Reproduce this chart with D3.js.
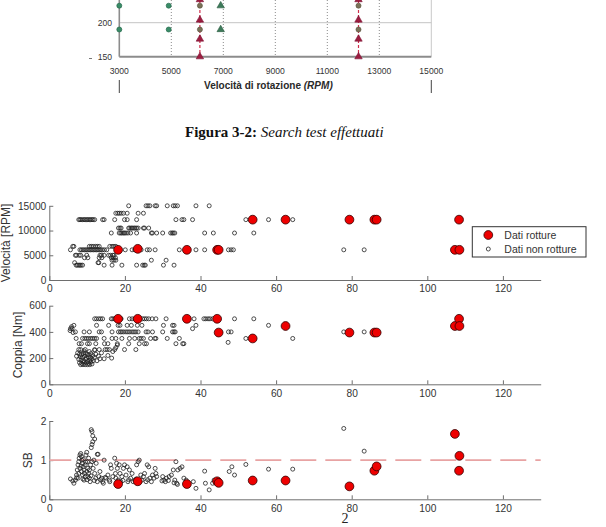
<!DOCTYPE html>
<html><head><meta charset="utf-8">
<script src="https://cdn.jsdelivr.net/npm/d3@7"></script>
<style>body{margin:0;background:#fff;} svg{display:block;}</style>
</head><body>
<svg id="c" width="606" height="527"></svg>
<script>
// ================= DATA =================
// Top (cropped) figure
const topTicksX = [3000, 5000, 7000, 9000, 11000, 13000, 15000];
const topTicksY = [150, 200];
const topGridX = [5000, 7000, 9000, 11000, 13000];
const topGreenCircleRpm = [3000, 4900];
const topBrownCircleRpm = [6100, 12200];
const topCircleLevels = [225, 190];
const topGreenTriRpm = [6900];
const topGreenTriLevels = [225, 190];
const topRedTriRpm = [6100, 12200];
const topRedTriLevels = [234, 204, 176, 150];
const topRedLineRpm = [6100, 12200];

// Main figure
const xTicks = [0, 20, 40, 60, 80, 100, 120];
const speedTicks = [0, 5000, 10000, 15000];
const torqueTicks = [0, 200, 400, 600];
const sbTicks = [0, 1, 2];
const sbLimit = 1;

// "Dati rotture" (breakages)
const breakX      = [18.2, 23.4, 36.4, 44.4, 44.8, 53.8, 62.5, 79.4, 86.0, 86.6, 107.3, 108.4, 108.5];
const breakSpeed  = [6100, 6300, 6100, 6100, 6100, 12200, 12200, 12200, 12200, 12200, 6100, 12200, 6100];
const breakTorque = [500, 500, 500, 500, 395, 350, 445, 395, 395, 395, 445, 500, 445];
const breakSB     = [0.39, 0.46, 0.39, 0.46, 0.42, 0.48, 0.48, 0.33, 0.73, 0.84, 1.67, 0.73, 1.11];

// "Dati non rotture" – speed panel, grouped by speed level
const speedRows = [
  [15000, [21.0,25.6,26.1,26.6,28.0,28.4,31.2,32.8,33.3,33.9,38.8,42.3]],
  [13500, [17.6,18.1,18.5,19.0,19.6,20.6,23.5,24.9]],
  [12200, [7.8,8.1,8.4,8.8,9.2,9.5,9.9,10.2,10.6,10.9,11.3,11.6,12.0,14.1,14.5,17.3,19.9,20.6,23.1,33.5,35.1,35.6,37.9,52.0,58.0,64.4]],
  [10500, [18.3,18.7,19.0,21.0,21.3,21.7,22.0,22.4,22.7,23.1,23.5,24.9,25.2,26.3]],
  [9500,  [16.4,18.5,18.9,19.2,19.6,19.9,20.3,20.8,21.5,23.1,27.0,27.3,28.4,30.0,32.1,32.5,32.8,33.2,41.1,43.4,49.0,54.1]],
  [6800,  [6.2,6.5,10.6,11.1,11.6,12.2,12.7,13.2,16.0,16.6,17.1,17.6]],
  [6100,  [5.6,8.1,8.5,8.9,9.3,9.7,10.1,10.5,10.9,11.3,11.7,12.1,12.5,12.9,13.3,13.7,14.1,14.6,15.2,20.1,21.9,22.6,24.3,25.9,26.5,28.0,34.4,38.8,41.1,47.4,48.1,48.7,77.9,83.3]],
  [5000,  [6.9,7.2,7.9,8.3,9.9,13.4,13.8,14.5,15.7,16.2,16.8,17.1]],
  [4500,  [9.3,10.2,13.2,13.9,16.4,16.9,17.5]],
  [4000,  [16.6,17.1,17.6,27.0,30.9]],
  [3500,  [6.7,12.9,13.1]],
  [3000,  [7.1,7.4,7.8,8.1,8.4,8.8,14.5,16.6,19.2,23.1,24.7,25.1,25.4,30.2,33.0]]
];

// torque panel, grouped by torque level
const torqueRows = [
  [500, [12.0,12.5,13.1,13.6,14.1,16.4,16.8,17.3,17.8,18.7,19.0,21.2,21.9,22.6,24.7,25.2,25.7,26.3,27.2,28.2,30.9,38.3,40.9,41.4,42.0,42.5,43.2,49.0,54.1]],
  [450, [6.5,12.5,15.7,18.2,18.7,20.6,21.7,23.3,24.5,30.2,32.6,33.0,38.8,58.0]],
  [425, [5.6,6.0,37.9]],
  [400, [6.9,9.2,10.6,13.2,13.8,16.6,18.3,18.8,19.2,19.7,20.3,20.8,21.3,21.9,22.4,22.9,23.5,25.6,26.1,27.3,30.0,32.6,33.0,33.3,47.4,48.1,77.9,83.3]],
  [350, [7.1,8.8,9.4,9.9,10.4,11.0,11.5,12.0,12.5,14.5,16.6,17.6,19.2,21.2,22.6,23.8,24.3,24.9,26.8,27.9,28.2,31.2,34.4,52.0,64.4]],
  [320, [47.3]],
  [310, [7.9,8.5,10.1,10.6,12.3,14.6,15.5,18.0,21.0,23.8,25.2,25.7,33.5,35.3,35.6]],
  [265, [7.8,8.3,9.5,12.0,13.2,14.8,15.3,15.9,17.3,19.9,22.9]]
];
// torque panel, low-torque cluster (x, torque)
const torqueCluster = [
  [7.5,240],[8.0,230],[8.5,225],[9.0,235],[9.5,240],[10.0,230],[10.5,225],[11.0,235],[11.5,220],
  [8.2,210],[8.8,205],[9.3,215],[9.8,200],[10.3,210],[10.8,205],[11.3,195],[7.8,190],[8.4,185],
  [9.0,180],[9.6,190],[10.2,175],[10.8,185],[11.6,180],[8.0,165],[8.6,160],[9.2,170],[9.8,165],
  [10.4,160],[11.0,170],[8.3,150],[8.9,150],[9.5,150],[10.1,150],[10.7,150],[11.3,155],[12.3,230],
  [13.0,215],[13.4,195],[14.5,195],[15.5,220],[16.5,200],[12.6,180],[13.8,240],[12.0,260],[16.8,250],
  [17.6,280],[18.0,300],[9.2,255],[10.6,250],[7.2,215],[11.9,205],[5.5,410],[5.9,440],[6.3,395]
];

// SB panel (x, SB)
const sbPoints = [
  [5.6,0.52],[6.2,0.47],[6.5,0.41],[6.9,0.49],[7.2,0.55],[7.4,0.75],[7.6,0.88],[7.8,0.96],[7.9,1.05],
  [8.1,1.13],[8.3,1.17],[8.5,1.09],[8.6,1.00],[8.8,0.92],[9.0,0.83],[9.2,0.75],[9.3,0.66],[9.5,0.58],
  [9.7,1.13],[9.9,1.20],[10.1,0.96],[10.2,0.79],[10.4,0.66],[10.6,0.54],[10.8,0.45],[8.5,0.71],
  [8.8,0.62],[9.2,0.49],[8.1,0.79],[7.8,0.66],[7.6,0.54],[9.5,0.88],[9.9,0.71],[10.2,0.58],[10.6,0.75],
  [10.9,0.88],[11.3,0.96],[11.6,0.79],[12.0,0.66],[12.3,0.54],[12.7,0.45],[13.1,0.58],[13.4,0.71],
  [12.9,1.15],[13.8,0.54],[14.1,0.45],[14.3,0.41],[14.5,1.00],[15.0,0.54],[15.5,0.62],[15.9,0.49],
  [16.2,0.88],[16.4,0.79],[16.8,0.58],[17.3,1.05],[17.5,0.66],[17.6,0.54],[17.8,0.92],[18.0,0.79],
  [18.2,0.49],[18.5,0.88],[18.7,0.66],[18.9,0.45],[19.2,0.58],[19.6,0.79],[19.9,0.88],[20.3,0.62],
  [20.6,0.83],[20.8,0.45],[21.2,0.75],[21.5,0.54],[21.9,0.66],[22.2,0.45],[22.6,0.49],[23.1,0.88],
  [23.5,0.96],[23.8,1.00],[24.2,0.62],[24.5,0.49],[24.9,0.58],[25.2,0.66],[25.6,0.45],[25.9,0.88],
  [26.3,0.83],[26.6,0.54],[27.0,0.45],[27.3,0.62],[27.7,0.54],[28.0,0.79],[28.2,0.66],[28.4,0.58],
  [30.0,0.58],[30.3,0.49],[30.7,0.45],[31.0,0.54],[31.7,0.58],[32.3,0.62],[32.8,0.75],[33.2,0.49],
  [33.5,0.96],[33.7,0.41],[34.0,0.75],[34.6,0.79],[35.1,0.83],[35.6,0.54],[36.2,0.49],[38.1,0.45],
  [38.8,0.28],[41.1,0.72],[41.3,0.41],[42.3,0.24],[43.2,0.41],[43.6,0.49],[47.6,0.71],[48.3,0.83],
  [49.0,0.62],[52.0,0.89],[58.0,0.77],[64.4,0.77],[77.9,1.81],[83.3,1.23],
  [11.1,1.78],[11.3,1.73],[11.5,1.62],[12.0,1.54],[11.5,1.47],[11.3,1.40],[11.1,1.32],[12.7,1.15],
  [9.0,1.02],[8.4,0.85],[9.6,0.95],[10.4,1.05],[11.8,1.00],[12.4,0.92],[7.2,0.62],[8.9,0.52],
  [10.0,0.50],[11.0,0.60],[11.9,0.48],[13.6,0.50],[14.8,0.56],[16.0,0.45],[19.5,0.48],[21.0,0.50],
  [23.0,0.52],[26.0,0.50],[29.8,0.47],[31.5,0.48],[33.0,0.42],[33.9,0.38]
];

// ================= DRAW =================
const svg = d3.select('#c');
const SANS = 'Liberation Sans, Arial, Helvetica, sans-serif';
const SERIF = 'Liberation Serif, Times New Roman, serif';

// ---------- top cropped chart ----------
const tx = d3.scaleLinear().domain([3000, 15000]).range([119.3, 431.3]);
const ty = d3.scaleLinear().domain([150, 200]).range([56.7, 22.7]);
const topG = svg.append('g');
topG.selectAll('line.gx').data(topGridX).join('line')
  .attr('x1', d => tx(d)).attr('x2', d => tx(d)).attr('y1', 0).attr('y2', ty(150))
  .attr('stroke', '#8a8a8a').attr('stroke-width', 1).attr('stroke-dasharray', '1,2');
topG.append('line').attr('x1', tx(15000)).attr('x2', tx(15000)).attr('y1', 0).attr('y2', ty(150))
  .attr('stroke', '#c8c8c8').attr('stroke-width', 1);
topG.append('line').attr('x1', tx(3000)).attr('x2', tx(15000)).attr('y1', ty(200)).attr('y2', ty(200))
  .attr('stroke', '#c4c4c4').attr('stroke-width', 1);
topG.selectAll('line.rl').data(topRedLineRpm).join('line')
  .attr('x1', d => tx(d)).attr('x2', d => tx(d)).attr('y1', 0).attr('y2', ty(150))
  .attr('stroke', '#d0304c').attr('stroke-width', 1.2).attr('stroke-dasharray', '3,2');
topG.append('line').attr('x1', tx(3000)).attr('x2', tx(3000)).attr('y1', 0).attr('y2', ty(150))
  .attr('stroke', '#8c8c8c').attr('stroke-width', 1.6);
topG.append('line').attr('x1', tx(3000)).attr('x2', tx(15000)).attr('y1', ty(150)).attr('y2', ty(150))
  .attr('stroke', '#8c8c8c').attr('stroke-width', 2);
topG.selectAll('text.tx').data(topTicksX).join('text')
  .attr('x', d => tx(d)).attr('y', 73.8).attr('text-anchor', 'middle')
  .attr('font-family', SANS).attr('font-size', 8.6).attr('fill', '#333').text(d => d);
topG.selectAll('text.ty').data(topTicksY).join('text')
  .attr('x', 112).attr('y', d => ty(d) + 3).attr('text-anchor', 'end')
  .attr('font-family', SANS).attr('font-size', 8.6).attr('fill', '#333').text(d => d);
topG.append('line').attr('x1', 89).attr('x2', 92).attr('y1', 58.5).attr('y2', 58.5).attr('stroke', '#777');
const ttG = topG.append('g');
const tt = ttG.append('text').attr('x', 0).attr('y', 0)
  .attr('font-family', SANS).attr('font-size', 11).attr('font-weight', 'bold').attr('fill', '#2a2a2a');
tt.append('tspan').text('Velocità di rotazione ');
tt.append('tspan').attr('font-style', 'italic').text('(RPM)');
const ttw = tt.node().getComputedTextLength() || 160;
ttG.attr('transform', `translate(204,89) scale(${129 / ttw},1)`);
topG.selectAll('line.vt').data([3000, 15000]).join('line')
  .attr('x1', d => tx(d)).attr('x2', d => tx(d)).attr('y1', 80).attr('y2', 93)
  .attr('stroke', '#444').attr('stroke-width', 1);
const circ = (rpms, levels, fill, stroke) => {
  const pts = [];
  rpms.forEach(r => levels.forEach(l => pts.push([r, l])));
  topG.append('g').selectAll('circle').data(pts).join('circle')
    .attr('cx', d => tx(d[0])).attr('cy', d => ty(d[1])).attr('r', 2.5)
    .attr('fill', fill).attr('stroke', stroke).attr('stroke-width', 0.7);
};
const tri = (rpms, levels, fill, stroke) => {
  const pts = [];
  rpms.forEach(r => levels.forEach(l => pts.push([r, l])));
  topG.append('g').selectAll('path').data(pts).join('path')
    .attr('d', d3.symbol(d3.symbolTriangle).size(24))
    .attr('transform', d => `translate(${tx(d[0])},${ty(d[1])})`)
    .attr('fill', fill).attr('stroke', stroke).attr('stroke-width', 0.6);
};
circ(topGreenCircleRpm, topCircleLevels, '#3a8c68', '#256b4c');
circ(topBrownCircleRpm, topCircleLevels, '#7a7258', '#5c553f');
tri(topGreenTriRpm, topGreenTriLevels, '#3d7a5a', '#2a5a40');
tri(topRedTriRpm, topRedTriLevels, '#9c1d40', '#7a1030');

// caption
const cap = svg.append('text').attr('x', 185).attr('y', 136.5)
  .attr('font-family', SERIF).attr('font-size', 15).attr('fill', '#111');
cap.append('tspan').attr('font-weight', 'bold').text('Figura 3-2:');
cap.append('tspan').attr('font-style', 'italic').text(' Search test effettuati');

// ---------- main three panels ----------
const x = d3.scaleLinear().domain([0, 130]).range([49.3, 540.7]);
const panels = [
  { y: d3.scaleLinear().domain([0, 15000]).range([280, 205.8]), ticks: speedTicks, label: 'Velocità [RPM]', lx: 9.5,
    rows: speedRows, extra: [], br: breakSpeed },
  { y: d3.scaleLinear().domain([0, 600]).range([384.3, 305.7]), ticks: torqueTicks, label: 'Coppia [Nm]', lx: 22,
    rows: torqueRows, extra: torqueCluster, br: breakTorque },
  { y: d3.scaleLinear().domain([0, 2]).range([499.3, 421]), ticks: sbTicks, label: 'SB', lx: 32,
    rows: [], extra: sbPoints, br: breakSB }
];

panels.forEach((p, i) => {
  const g = svg.append('g');
  const y0 = p.y.range()[0];
  const xa = g.append('g').attr('transform', `translate(0,${y0})`)
    .call(d3.axisBottom(x).tickValues(xTicks).tickSizeInner(-4).tickSizeOuter(0).tickPadding(5));
  const ya = g.append('g').attr('transform', `translate(${x(0)},0)`)
    .call(d3.axisLeft(p.y).tickValues(p.ticks).tickSizeInner(-4).tickSizeOuter(0).tickPadding(3).tickFormat(d3.format('d')));
  [xa, ya].forEach(a => {
    a.select('.domain').attr('stroke', '#6e6e6e').attr('stroke-width', 1);
    a.selectAll('.tick line').attr('stroke', '#6e6e6e');
    a.selectAll('text').attr('font-family', SANS).attr('font-size', 10.2).attr('fill', '#333');
  });
  g.append('text').attr('transform', `translate(${p.lx},${(p.y.range()[0] + p.y.range()[1]) / 2}) rotate(-90)`)
    .attr('text-anchor', 'middle').attr('font-family', SANS).attr('font-size', 12).attr('fill', '#333')
    .text(p.label);

  if (i === 2) {
    g.append('line').attr('x1', x(0)).attr('x2', x(130)).attr('y1', p.y(sbLimit)).attr('y2', p.y(sbLimit))
      .attr('stroke', '#e8a3a3').attr('stroke-width', 1.6).attr('stroke-dasharray', '26,9').attr('stroke-dashoffset', 4);
  }
  const pts = [];
  p.rows.forEach(([lv, xs]) => xs.forEach(v => pts.push([v, lv])));
  p.extra.forEach(d => pts.push(d));
  g.append('g').selectAll('circle').data(pts).join('circle')
    .attr('cx', d => x(d[0])).attr('cy', d => p.y(d[1])).attr('r', 2)
    .attr('fill', 'none').attr('stroke', '#222').attr('stroke-width', 0.8);
  g.append('g').selectAll('circle').data(breakX.map((v, k) => [v, p.br[k]])).join('circle')
    .attr('cx', d => x(d[0])).attr('cy', d => p.y(d[1])).attr('r', 4.4)
    .attr('fill', '#ee0000').attr('stroke', '#300').attr('stroke-width', 0.8);
});

// legend
const lg = svg.append('g');
lg.append('rect').attr('x', 472.3).attr('y', 226.7).attr('width', 113.7).attr('height', 30.3)
  .attr('fill', '#fff').attr('stroke', '#333').attr('stroke-width', 1);
lg.append('circle').attr('cx', 488.3).attr('cy', 235).attr('r', 4.4)
  .attr('fill', '#ee0000').attr('stroke', '#300').attr('stroke-width', 0.8);
lg.append('circle').attr('cx', 488.3).attr('cy', 249).attr('r', 2)
  .attr('fill', 'none').attr('stroke', '#222').attr('stroke-width', 0.8);
lg.append('text').attr('x', 504.3).attr('y', 238.8).attr('font-family', SANS).attr('font-size', 10.5).attr('fill', '#333').text('Dati rotture');
lg.append('text').attr('x', 504.3).attr('y', 252.8).attr('font-family', SANS).attr('font-size', 10.5).attr('fill', '#333').text('Dati non rotture');

// page number
svg.append('text').attr('x', 345).attr('y', 522.5).attr('text-anchor', 'middle')
  .attr('font-family', SERIF).attr('font-size', 14).attr('fill', '#222').text('2');
</script>
</body></html>
